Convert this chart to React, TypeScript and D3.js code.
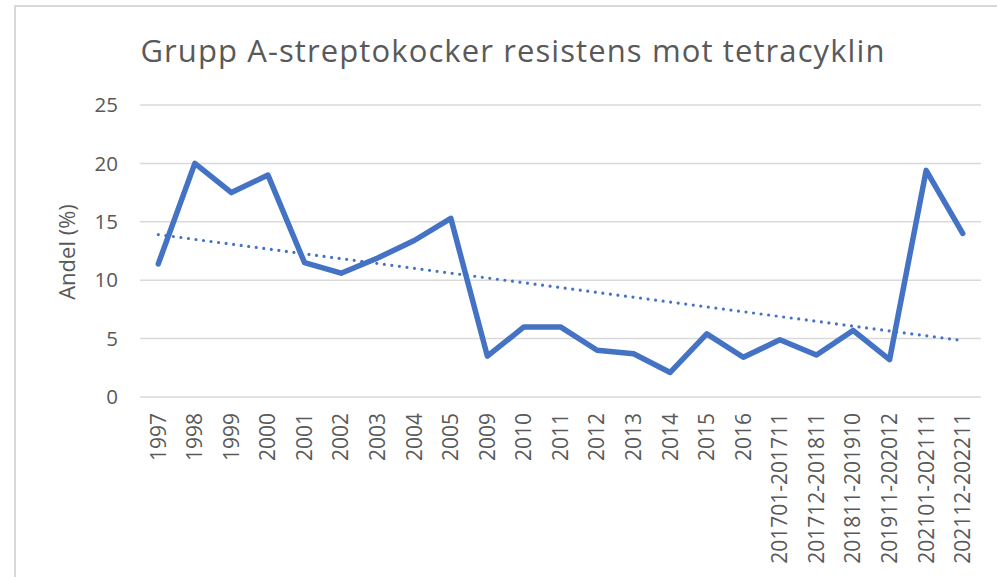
import React, { useEffect, useRef } from 'react';
import * as d3 from 'd3';

// kategorier på x-axeln
const categories = [
  '1997', '1998', '1999', '2000', '2001', '2002', '2003', '2004', '2005',
  '2009', '2010', '2011', '2012', '2013', '2014', '2015', '2016',
  '201701-201711', '201712-201811', '201811-201910', '201911-202012',
  '202101-202111', '202112-202211',
];

// andel resistenta (%)
const andel = [
  11.4, 20.0, 17.5, 19.0, 11.5, 10.6, 11.9, 13.4, 15.3,
  3.5, 6.0, 6.0, 4.0, 3.7, 2.1, 5.4, 3.4,
  4.9, 3.6, 5.7, 3.2, 19.4, 14.0,
];

const yTicks = [0, 5, 10, 15, 20, 25];

const title = 'Grupp A-streptokocker resistens mot tetracyklin';
const yTitle = 'Andel (%)';

const W = 997;
const H = 577;
const FONT = '"Open Sans", "Liberation Sans", sans-serif';
const GREY = '#595959';
const BLUE = '#4472c4';

function App() {
  const ref = useRef<SVGSVGElement>(null);

  useEffect(() => {
    const svg = d3.select(ref.current);
    svg.selectAll('*').remove();

    const margin = { top: 105, right: 16, bottom: 180, left: 140 };
    const w = W - margin.left - margin.right;
    const h = 397 - margin.top;

    // ram runt diagrammet
    svg.append('rect')
      .attr('x', 15).attr('y', 6)
      .attr('width', W + 20).attr('height', H + 20)
      .attr('fill', '#fff')
      .attr('stroke', '#d9d9d9')
      .attr('stroke-width', 2);

    svg.append('text')
      .attr('x', 513).attr('y', 62)
      .attr('text-anchor', 'middle')
      .attr('font-family', FONT)
      .attr('font-size', 31)
      .attr('letter-spacing', 1.1)
      .attr('fill', GREY)
      .text(title);

    const g = svg.append('g')
      .attr('transform', `translate(${margin.left}, ${margin.top})`);

    const x = d3.scaleBand()
      .domain(categories)
      .range([0, w]);

    const y = d3.scaleLinear()
      .domain([0, 25])
      .range([h, 0]);

    // stödlinjer
    g.append('g')
      .selectAll('line')
      .data(yTicks)
      .enter()
      .append('line')
      .attr('x1', 0).attr('x2', w)
      .attr('y1', d => y(d)).attr('y2', d => y(d))
      .attr('stroke', '#d9d9d9')
      .attr('stroke-width', 1.5);

    g.append('g')
      .selectAll('text')
      .data(yTicks)
      .enter()
      .append('text')
      .attr('x', -22)
      .attr('y', d => y(d))
      .attr('dy', '0.35em')
      .attr('text-anchor', 'end')
      .attr('font-family', FONT)
      .attr('font-size', 20.5)
      .attr('fill', GREY)
      .text(d => d);

    g.append('text')
      .attr('transform', `translate(-73, ${h / 2 + 1}) rotate(-90)`)
      .attr('text-anchor', 'middle')
      .attr('dy', '0.35em')
      .attr('font-family', FONT)
      .attr('font-size', 22)
      .attr('fill', GREY)
      .text(yTitle);

    const cx = (c: string) => (x(c) as number) + x.bandwidth() / 2;

    g.append('g')
      .selectAll('text')
      .data(categories)
      .enter()
      .append('text')
      .attr('transform', d => `translate(${cx(d)}, ${h + 16}) rotate(-90)`)
      .attr('dy', '0.35em')
      .attr('text-anchor', 'end')
      .attr('font-family', FONT)
      .attr('font-size', 21)
      .attr('fill', GREY)
      .text(d => d);

    // linjär trendlinje (minsta kvadrat)
    const idx = d3.range(andel.length);
    const mx = d3.mean(idx) as number;
    const my = d3.mean(andel) as number;
    const sxy = d3.sum(idx, i => (i - mx) * (andel[i] - my));
    const sxx = d3.sum(idx, i => (i - mx) * (i - mx));
    const k = sxy / sxx;
    const m = my - k * mx;
    const trend = [0, andel.length - 1].map(i => [cx(categories[i]), y(m + k * i)] as [number, number]);

    g.append('path')
      .datum(trend)
      .attr('d', d3.line())
      .attr('fill', 'none')
      .attr('stroke', BLUE)
      .attr('stroke-width', 3.2)
      .attr('stroke-linecap', 'round')
      .attr('stroke-dasharray', '0 7.6');

    const line = d3.line<number>()
      .x((d, i) => cx(categories[i]))
      .y(d => y(d));

    g.append('path')
      .datum(andel)
      .attr('d', line)
      .attr('fill', 'none')
      .attr('stroke', BLUE)
      .attr('stroke-width', 5.5)
      .attr('stroke-linejoin', 'round')
      .attr('stroke-linecap', 'round');
  }, []);

  return (
    <div>
      <svg ref={ref} width={W} height={H}
        style={{ position: 'absolute', left: 0, top: 0, display: 'block' }} />
    </div>
  );
}

export default App;
